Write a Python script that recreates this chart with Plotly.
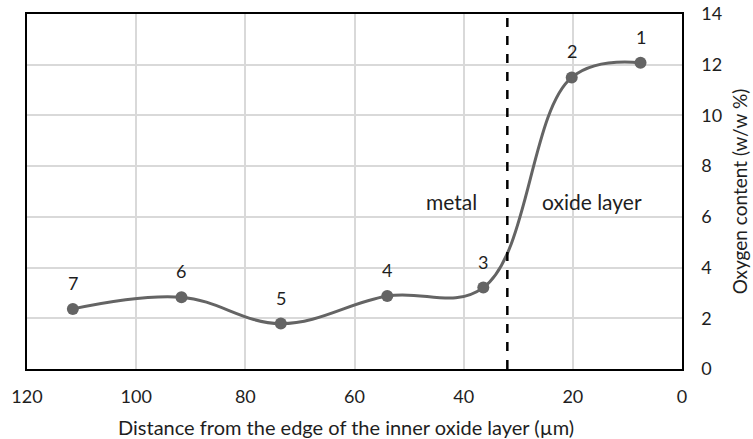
import plotly.graph_objects as go

# Oxygen profile across the metal / oxide interface
distance_um = [111.6, 91.7, 73.5, 54.0, 36.4, 20.2, 7.6]
oxygen_pct = [2.37, 2.83, 1.79, 2.88, 3.21, 11.5, 12.08]
point_labels = ["7", "6", "5", "4", "3", "2", "1"]

interface_x = 32
x_ticks = [120, 100, 80, 60, 40, 20, 0]
y_ticks = [0, 2, 4, 6, 8, 10, 12, 14]

FONT = "Lato"
TEXT = "#1e1e1e"
GRID = "#d9d9d9"
LINE = "#646464"

fig = go.Figure()
fig.add_trace(go.Scatter(
    x=distance_um, y=oxygen_pct, mode="lines+markers",
    line=dict(color=LINE, width=3, shape="spline", smoothing=1.1),
    marker=dict(color=LINE, size=12),
    showlegend=False, hoverinfo="skip",
))

for x, y, t in zip(distance_um, oxygen_pct, point_labels):
    fig.add_annotation(x=x, y=y, text=t, showarrow=False, yshift=26,
                       font=dict(family=FONT, size=18, color=TEXT))

fig.add_shape(type="line", x0=interface_x, x1=interface_x, y0=0, y1=14,
              xref="x", yref="y", line=dict(color="black", width=2.5, dash="dash"))

fig.add_annotation(x=42.2, y=6.6, text="metal", showarrow=False,
                   font=dict(family=FONT, size=21, color=TEXT))
fig.add_annotation(x=16.5, y=6.6, text="oxide layer", showarrow=False,
                   font=dict(family=FONT, size=21, color=TEXT))

# x-axis title, set slightly left of the plot centre
fig.add_annotation(x=0.487, y=-0.163, xref="paper", yref="paper", yanchor="middle",
                   text="Distance from the edge of the inner oxide layer (µm)",
                   showarrow=False, font=dict(family=FONT, size=20, color=TEXT))

fig.update_xaxes(
    range=[120, 0], tickvals=x_ticks, showgrid=True, gridcolor=GRID, gridwidth=1.5,
    showline=True, linecolor="black", linewidth=1.5, mirror=True, zeroline=False,
    ticks="", ticklabelstandoff=11, automargin=False,
    tickfont=dict(family=FONT, size=18, color=TEXT),
)
fig.update_yaxes(
    range=[0, 14], tickvals=y_ticks, side="right", showgrid=True, gridcolor=GRID, gridwidth=1.5,
    showline=True, linecolor="black", linewidth=1.5, mirror=True, zeroline=False,
    ticks="", ticklabelstandoff=14, automargin=False,
    tickfont=dict(family=FONT, size=18, color=TEXT),
    title=dict(text="Oxygen content (w/w %)",
               font=dict(family=FONT, size=19, color=TEXT), standoff=12),
)

fig.update_layout(
    width=753, height=439,
    margin=dict(l=27, r=71, t=14, b=70),
    paper_bgcolor="white", plot_bgcolor="white",
)

fig.write_html("out.html")
